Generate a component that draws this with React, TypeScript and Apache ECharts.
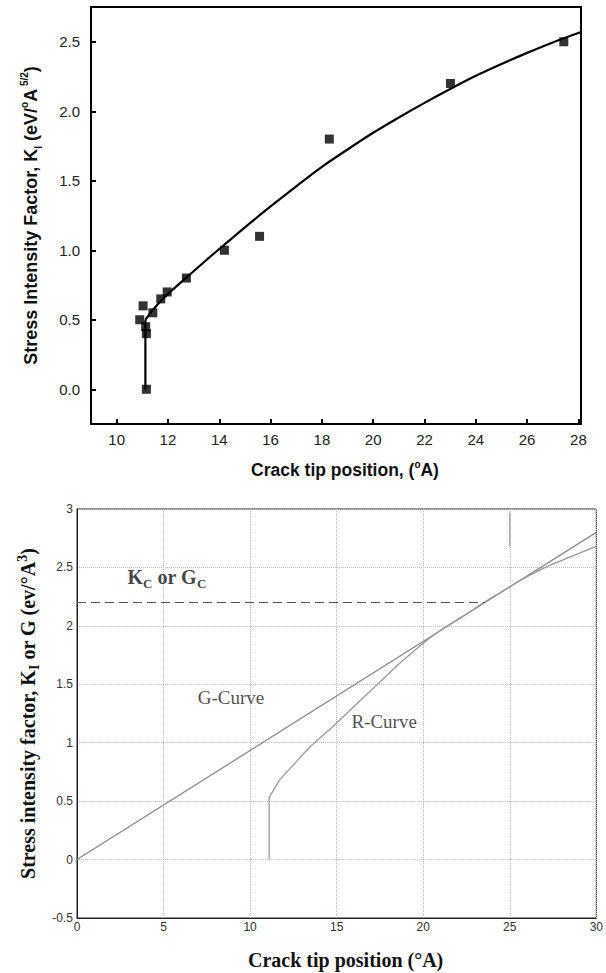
import React, { useEffect, useRef } from "react";
import * as echarts from "echarts";

// ---- Top chart data ----
const topXTicks = [10, 12, 14, 16, 18, 20, 22, 24, 26, 28];
const topYTicks = [0, 0.5, 1.0, 1.5, 2.0, 2.5];
const topPointsX = [10.9, 11.03, 11.13, 11.16, 11.16, 11.41, 11.72, 11.97, 12.72, 14.2, 15.57, 18.29, 23.01, 27.43];
const topPointsY = [0.5, 0.6, 0.45, 0.4, 0.0, 0.55, 0.65, 0.7, 0.8, 1.0, 1.1, 1.8, 2.2, 2.5];
const topStemX = [11.12, 11.12];
const topStemY = [0.0, 0.5];
const topFitX = [11.12, 11.5, 12.0, 12.7, 13.5, 14.2, 15.0, 16.0, 17.0, 18.0, 19.0, 20.0, 21.0, 22.0, 23.0, 24.0, 25.0, 26.0, 27.0, 28.1];
const topFitY = [0.5, 0.59, 0.685, 0.8, 0.93, 1.04, 1.165, 1.315, 1.46, 1.6, 1.725, 1.845, 1.955, 2.06, 2.16, 2.255, 2.34, 2.42, 2.495, 2.57];

// ---- Bottom chart data ----
const gCurveX = [0, 30];
const gCurveY = [0, 2.8];
const rCurveX = [11.1, 11.1, 11.3, 11.7, 12.5, 13.5, 14.5, 15.5, 16.5, 17.5, 18.5, 19.5, 20.5, 21.5, 22.5, 23.5, 24.5, 25.5, 26.5, 27.5, 28.5, 29.5, 30];
const rCurveY = [0, 0.53, 0.58, 0.68, 0.81, 0.97, 1.1, 1.24, 1.38, 1.52, 1.66, 1.79, 1.91, 2.01, 2.1, 2.2, 2.29, 2.38, 2.46, 2.53, 2.59, 2.65, 2.68];
const kcLevelX = [0, 23.57];
const kcLevelY = [2.2, 2.2];
const markX = [25, 25];
const markY = [2.68, 2.97];
const annotationNames = ["kc", "g", "r"];
const annotationX = [2.92, 6.97, 15.85];
const annotationY = [2.42, 1.39, 1.18];

const zip = (xs: number[], ys: number[]) => xs.map((x, i) => [x, ys[i]]);

const SANS = "Liberation Sans";
const SERIF = "Liberation Serif";

function buildOption(): any {
  const annotationText: Record<string, string> = {
    kc: "{b|K}{bs|C}{b| or G}{bs|C}",
    g: "{r|G-Curve}",
    r: "{r|R-Curve}",
  };
  return {
    animation: false,
    backgroundColor: "#ffffff",
    grid: [
      { left: 91, top: 7, width: 490, height: 417, show: true, borderColor: "#000", borderWidth: 2 },
      { left: 77, top: 509, width: 520, height: 409, show: true, borderColor: "#222", borderWidth: 1 },
    ],
    xAxis: [
      {
        type: "value",
        gridIndex: 0,
        min: 9,
        max: 28.1,
        axisLine: { show: true, onZero: false, lineStyle: { color: "#000", width: 2 } },
        axisTick: { show: true, inside: true, length: 5, customValues: topXTicks, lineStyle: { color: "#000", width: 2 } },
        axisLabel: { customValues: topXTicks, margin: 8, fontSize: 15, fontFamily: SANS, color: "#222" },
        splitLine: { show: false },
        name: "{a|Crack tip position, (}{sup|o}{a|A)}",
        nameLocation: "middle",
        nameGap: 35,
        nameTextStyle: {
          fontFamily: SANS,
          fontWeight: "bold",
          fontSize: 17.5,
          color: "#111",
          padding: [0, 0, 0, 18],
          rich: {
            a: { fontFamily: SANS, fontWeight: "bold", fontSize: 17.5, color: "#111", lineHeight: 22, verticalAlign: "middle" },
            sup: { fontFamily: SANS, fontSize: 10, color: "#111", lineHeight: 22, verticalAlign: "top" },
          },
        },
      },
      {
        type: "value",
        gridIndex: 1,
        min: 0,
        max: 30,
        interval: 5,
        axisLine: { show: true, onZero: false, lineStyle: { color: "#222", width: 1 } },
        axisTick: { show: false },
        axisLabel: { margin: 3, fontSize: 12, fontFamily: SANS, color: "#333" },
        splitLine: { show: true, lineStyle: { type: "dotted", color: "#bbb", width: 1 } },
        name: "{a|Crack tip position (°A)}",
        nameLocation: "middle",
        nameGap: 32,
        nameTextStyle: {
          fontFamily: SERIF,
          fontWeight: "bold",
          fontSize: 20,
          color: "#111",
          padding: [0, 0, 0, 18],
          rich: {
            a: { fontFamily: SERIF, fontWeight: "bold", fontSize: 20, color: "#111" },
          },
        },
      },
    ],
    yAxis: [
      {
        type: "value",
        gridIndex: 0,
        min: -0.25,
        max: 2.75,
        axisLine: { show: true, onZero: false, lineStyle: { color: "#000", width: 2 } },
        axisTick: { show: true, inside: true, length: 5, customValues: topYTicks, lineStyle: { color: "#000", width: 2 } },
        axisLabel: {
          customValues: topYTicks,
          margin: 11,
          fontSize: 15,
          fontFamily: SANS,
          color: "#222",
          formatter: (v: number) => v.toFixed(1),
        },
        splitLine: { show: false },
        name: "{a|Stress Intensity Factor, K}{sub|I}{a| (eV/}{sup|o}{a|A}{sup| 5/2}{a|)}",
        nameLocation: "middle",
        nameGap: 48,
        nameTextStyle: {
          fontFamily: SANS,
          fontWeight: "bold",
          fontSize: 18,
          color: "#111",
          rich: {
            a: { fontFamily: SANS, fontWeight: "bold", fontSize: 18, color: "#111", lineHeight: 24, verticalAlign: "middle" },
            sub: { fontFamily: SANS, fontSize: 10, color: "#111", lineHeight: 24, verticalAlign: "bottom" },
            sup: { fontFamily: SANS, fontSize: 10, color: "#111", lineHeight: 24, verticalAlign: "top" },
          },
        },
      },
      {
        type: "value",
        gridIndex: 1,
        min: -0.5,
        max: 3,
        interval: 0.5,
        axisLine: { show: true, onZero: false, lineStyle: { color: "#222", width: 1 } },
        axisTick: { show: false },
        axisLabel: { margin: 4, fontSize: 12, fontFamily: SANS, color: "#333" },
        splitLine: { show: true, lineStyle: { type: "dotted", color: "#bbb", width: 1 } },
        name: "{a|Stress intensity factor, K}{sub|I}{a| or G (ev/°A}{sup|3}{a|)}",
        nameLocation: "middle",
        nameGap: 28,
        nameTextStyle: {
          fontFamily: SERIF,
          fontWeight: "bold",
          fontSize: 20,
          color: "#111",
          rich: {
            a: { fontFamily: SERIF, fontWeight: "bold", fontSize: 20, color: "#111", lineHeight: 26, verticalAlign: "middle" },
            sub: { fontFamily: SERIF, fontWeight: "bold", fontSize: 14, color: "#111", lineHeight: 26, verticalAlign: "bottom" },
            sup: { fontFamily: SERIF, fontWeight: "bold", fontSize: 14, color: "#111", lineHeight: 26, verticalAlign: "top" },
          },
        },
      },
    ],
    series: [
      {
        type: "line",
        xAxisIndex: 0,
        yAxisIndex: 0,
        data: zip(topStemX, topStemY),
        showSymbol: false,
        lineStyle: { color: "#000", width: 2.2 },
        silent: true,
        z: 2,
      },
      {
        type: "line",
        xAxisIndex: 0,
        yAxisIndex: 0,
        data: zip(topFitX, topFitY),
        showSymbol: false,
        smooth: 0.3,
        lineStyle: { color: "#000", width: 2.2 },
        silent: true,
        z: 2,
      },
      {
        type: "scatter",
        xAxisIndex: 0,
        yAxisIndex: 0,
        data: zip(topPointsX, topPointsY),
        symbol: "rect",
        symbolSize: 9,
        itemStyle: { color: "#000" },
        silent: true,
        z: 3,
      },
      {
        type: "line",
        xAxisIndex: 1,
        yAxisIndex: 1,
        data: zip(gCurveX, gCurveY),
        showSymbol: false,
        lineStyle: { color: "#8a8a8a", width: 1.3 },
        silent: true,
      },
      {
        type: "line",
        xAxisIndex: 1,
        yAxisIndex: 1,
        data: zip(rCurveX, rCurveY),
        showSymbol: false,
        smooth: 0.2,
        lineStyle: { color: "#999", width: 1.3 },
        silent: true,
      },
      {
        type: "line",
        xAxisIndex: 1,
        yAxisIndex: 1,
        data: zip(kcLevelX, kcLevelY),
        showSymbol: false,
        lineStyle: { color: "#555", width: 1, type: [9, 5] },
        silent: true,
      },
      {
        type: "line",
        xAxisIndex: 1,
        yAxisIndex: 1,
        data: zip(markX, markY),
        showSymbol: false,
        lineStyle: { color: "#aaa", width: 1.5 },
        silent: true,
      },
      {
        type: "scatter",
        xAxisIndex: 1,
        yAxisIndex: 1,
        symbolSize: 0,
        silent: true,
        data: annotationNames.map((n, i) => ({ name: n, value: [annotationX[i], annotationY[i]] })),
        label: {
          show: true,
          position: "right",
          distance: 0,
          formatter: (p: any) => annotationText[p.name],
          rich: {
            b: { fontFamily: SERIF, fontWeight: "bold", fontSize: 20, color: "#111", lineHeight: 26, verticalAlign: "middle" },
            bs: { fontFamily: SERIF, fontWeight: "bold", fontSize: 13, color: "#111", lineHeight: 26, verticalAlign: "bottom" },
            r: { fontFamily: SERIF, fontSize: 19, color: "#1e1e1e" },
          },
        },
      },
    ],
  };
}

export default function App() {
  const ref = useRef<HTMLDivElement>(null);
  useEffect(() => {
    if (!ref.current) return;
    const chart = echarts.init(ref.current, null, { renderer: "svg" });
    chart.setOption(buildOption());
    return () => chart.dispose();
  }, []);
  return (
    <div
      ref={ref}
      style={{ position: "absolute", left: 0, top: 0, width: 606, height: 973, background: "#fff" }}
    />
  );
}
